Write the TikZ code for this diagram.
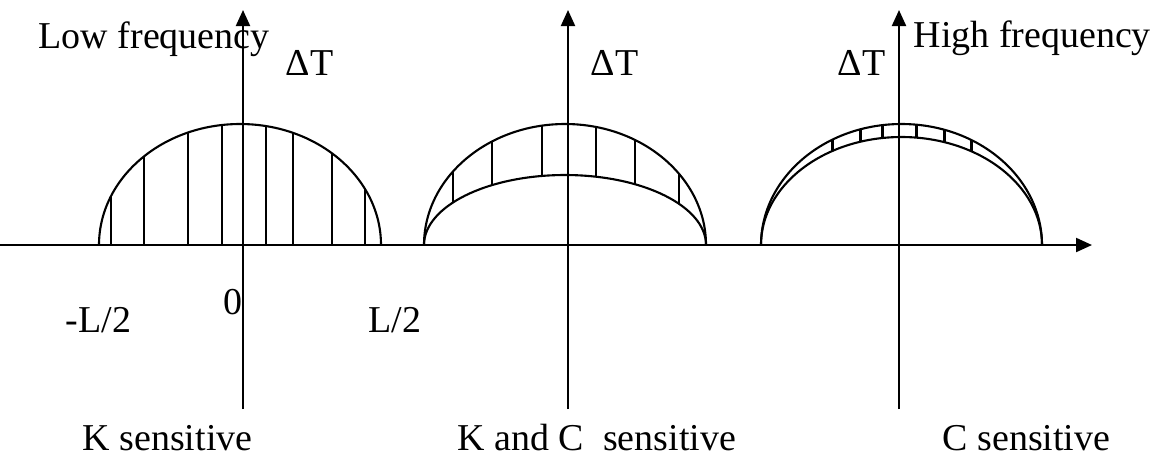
\documentclass[tikz,border=0pt]{standalone}
\usepackage{fontspec}
\setmainfont{Liberation Serif}
\usetikzlibrary{arrows.meta}
\tikzset{
  lbl/.style={inner sep=0pt,anchor=base west,font=\fontsize{10.8}{13}\selectfont},
  ax/.style={-{Triangle[length=1.6mm,width=1.4mm]},line width=0.6pt},
  crv/.style={line width=0.6pt},
  hatch/.style={line width=0.6pt},
}

\begin{document}
\begin{tikzpicture}
\useasboundingbox (0,-2.10) rectangle (11.55,2.45);
% axes
\coordinate (xs) at (0,0);
\coordinate (xe) at (10.92,0);
\draw[ax] (xs) -- (xe);
\foreach \n/\x in {k/2.43,kc/5.68,c/8.99}{
  \coordinate (\n lo) at (\x,-1.64);
  \coordinate (\n hi) at (\x,2.35);
  \draw[ax] (\n lo) -- (\n hi);
}
% low frequency: K sensitive
\draw[crv] (0.99,0) arc[start angle=180,end angle=0,x radius=1.41,y radius=1.21];
\foreach \d in {-1.29,-0.96,-0.52,-0.18,0.26,0.53,0.92,1.25}
  \draw[hatch] ({2.40+(\d)},0) -- ({2.40+(\d)},{1.21*sqrt(1-(\d/1.41)^2)});
% K and C sensitive
\draw[crv] (4.24,0) arc[start angle=180,end angle=0,x radius=1.41,y radius=1.21];
\draw[crv] (4.24,0) arc[start angle=180,end angle=0,x radius=1.41,y radius=0.70];
\foreach \d in {-1.12,-0.73,-0.23,0.31,0.70,1.14}
  \draw[hatch] ({5.65+(\d)},{0.70*sqrt(1-(\d/1.41)^2)}) -- ({5.65+(\d)},{1.21*sqrt(1-(\d/1.41)^2)});
% high frequency: C sensitive
\draw[crv] (7.61,0) arc[start angle=180,end angle=0,x radius=1.405,y radius=1.21];
\draw[crv] (7.61,0) arc[start angle=180,end angle=0,x radius=1.405,y radius=1.08];
\foreach \d in {-0.69,-0.41,-0.19,0.15,0.43,0.70}
  \draw[hatch] ({9.015+(\d)},{1.08*sqrt(1-(\d/1.405)^2)}) -- ({9.015+(\d)},{1.21*sqrt(1-(\d/1.405)^2)});
% labels
\node[lbl] (lowf) at (0.38,1.97) {Low frequency};
\node[lbl] (highf) at (9.13,1.98) {High frequency};
\node[lbl] (dtk) at (2.85,1.70) {ΔT};
\node[lbl] (dtkc) at (5.90,1.70) {ΔT};
\node[lbl] (dtc) at (8.37,1.70) {ΔT};
\node[lbl] (mhalf) at (0.65,-0.87) {-L/2};
\node[lbl] (zero) at (2.23,-0.69) {0};
\node[lbl] (phalf) at (3.68,-0.87) {L/2};
\node[lbl] (ksens) at (0.82,-2.05) {K sensitive};
\node[lbl] (kcsens) at (4.57,-2.05) {K and C\ \ sensitive};
\node[lbl] (csens) at (9.42,-2.05) {C sensitive};
\end{tikzpicture}
\end{document}
